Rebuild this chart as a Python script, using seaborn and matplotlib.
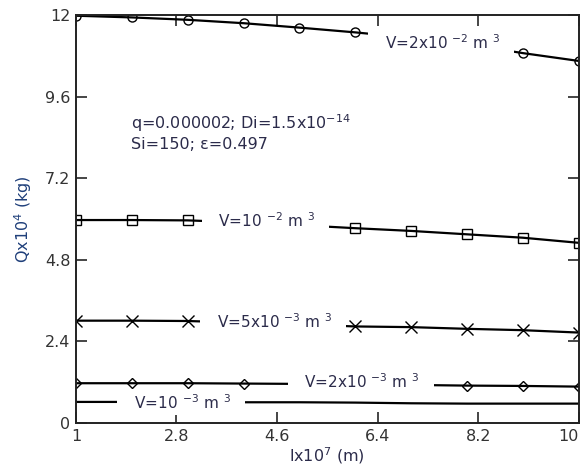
import matplotlib
matplotlib.use("Agg")
import matplotlib.pyplot as plt
import seaborn as sns

# length values (x10^7 m)
lengths = [1, 2, 3, 4, 5, 6, 7, 8, 9, 10]

# Q x10^4 (kg) for each volume
q_v2e2 = [11.98, 11.93, 11.86, 11.76, 11.63, 11.49, 11.33, 11.14, 10.88, 10.65]
q_v1e2 = [5.97, 5.97, 5.96, 5.90, 5.82, 5.73, 5.65, 5.55, 5.45, 5.30]
q_v5e3 = [3.01, 3.01, 3.00, 2.95, 2.90, 2.84, 2.82, 2.77, 2.73, 2.66]
q_v2e3 = [1.17, 1.17, 1.17, 1.16, 1.15, 1.14, 1.12, 1.10, 1.09, 1.07]
q_v1e3 = [0.62, 0.62, 0.62, 0.61, 0.61, 0.60, 0.58, 0.57, 0.57, 0.57]

x_ticks = [1, 2.8, 4.6, 6.4, 8.2, 10]
x_tick_labels = ["1", "2.8", "4.6", "6.4", "8.2", "10"]
y_ticks = [0, 2.4, 4.8, 7.2, 9.6, 12]
y_tick_labels = ["0", "2.4", "4.8", "7.2", "9.6", "12"]

series = [
    (q_v2e2, "o", 6.5, r"V=2x10 $^{-2}$ m $^3$", (7.54, 11.2)),
    (q_v1e2, "s", 6.5, r"V=10 $^{-2}$ m $^3$", (4.39, 5.95)),
    (q_v5e3, "x", 8, r"V=5x10 $^{-3}$ m $^3$", (4.53, 2.98)),
    (q_v2e3, "D", 5, r"V=2x10 $^{-3}$ m $^3$", (6.1, 1.22)),
    (q_v1e3, None, 0, r"V=10 $^{-3}$ m $^3$", (2.88, 0.6)),
]

sns.set_style("ticks")
plt.rcParams["font.family"] = ["DejaVu Sans"]
text_color = "#2b2b4a"

fig = plt.figure(figsize=(5.84, 4.70), dpi=100)
ax = fig.add_axes([0.130, 0.100, 0.861, 0.868])

for values, marker, msize, label, pos in series:
    kw = {}
    if marker is not None:
        kw = dict(marker=marker, markersize=msize, markerfacecolor="none",
                  markeredgecolor="black", markeredgewidth=1.0)
    sns.lineplot(x=lengths, y=values, ax=ax, color="black", linewidth=1.6,
                 legend=False, **kw)
    # white box hides the line under the label, as in the original
    ax.text(pos[0], pos[1], "   " + label + "   ", ha="center", va="center",
            fontsize=11, color=text_color, zorder=5,
            bbox=dict(facecolor="white", edgecolor="none", pad=2.0))

ax.text(1.99, 8.82, r"q=0.000002; Di=1.5x10$^{-14}$", ha="left", va="center",
        fontsize=11.5, color=text_color)
ax.text(1.99, 8.18, "Si=150; ε=0.497", ha="left", va="center",
        fontsize=11.5, color=text_color)

ax.set_xlim(1, 10)
ax.set_ylim(0, 12)
ax.set_xticks(x_ticks)
ax.set_xticklabels(x_tick_labels)
ax.set_yticks(y_ticks)
ax.set_yticklabels(y_tick_labels)
ax.tick_params(direction="in", length=8, width=1.2, top=True, right=True,
               labelsize=11.5, labelcolor="#333333", pad=4)
ax.get_xticklabels()[-1].set_horizontalalignment("right")

for side in ["left", "right", "top", "bottom"]:
    ax.spines[side].set_visible(True)
    ax.spines[side].set_linewidth(1.4)
    ax.spines[side].set_color("#222222")

ax.set_xlabel(r"lx10$^7$ (m)", fontsize=11.5, color=text_color, labelpad=1)
ax.set_ylabel(r"Qx10$^4$ (kg)", fontsize=11.5, color="#1f3f7a", labelpad=8)

fig.savefig("out.png", dpi=100)
